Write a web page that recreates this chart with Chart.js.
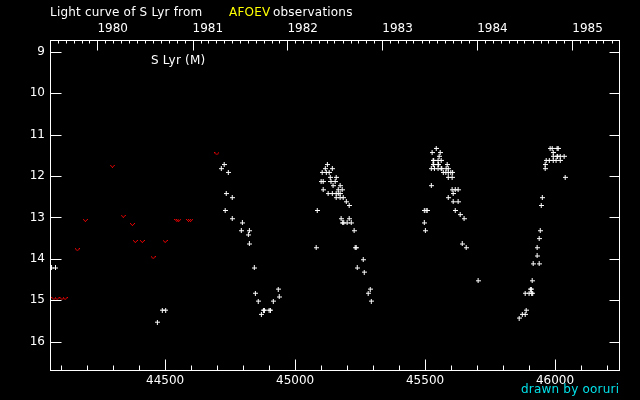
<!DOCTYPE html>
<html><head><meta charset="utf-8">
<script src="https://cdn.jsdelivr.net/npm/chart.js@4/dist/chart.umd.min.js"></script>
<style>html,body{margin:0;padding:0;background:#000;overflow:hidden}canvas{display:block}</style>
</head><body>
<canvas id="c" width="640" height="400"></canvas>
<script>
// Visual observations (JD - 2400000, magnitude)
const visJD = [44063,44078,44470,44489,44502,
  44716,44727,44743,44735,44758,44731,44758,44797,44793,44824,44820,44824,44843,44847,44858,44870,44878,44882,44900,44905,44916,44935,44939,
  45081,45085,45100,45104,45108,45108,45116,45120,45124,45127,45131,45135,45138,45143,45143,45146,45154,45158,45158,45158,45166,45166,45173,45173,45173,45177,45181,45183,45185,45187,45197,45200,45208,45208,45216,45227,45231,45235,45239,45262,45266,45281,45289,45293,
  45497,45504,45508,45497,45501,45524,45524,45527,45531,45533,45531,45533,45536,45543,45550,45550,45552,45550,45554,45558,45562,45562,45564,45570,45580,45589,45599,45606,45581,45589,45585,45589,45604,45589,45604,45616,45627,45608,45608,45627,45616,45635,45650,45643,45658,45704,
  45862,45874,45885,45889,45885,45900,45910,45914,45905,45909,45912,45916,45939,45931,45931,45939,45943,45947,45951,45962,45962,45966,45978,45993,46004,46020,45993,46008,46010,46020,46035,45993,45981,45989,46008,46012,46039];
const visMag = [14.22,14.22,15.53,15.24,15.24,
  11.82,11.72,11.91,12.42,12.52,12.83,13.03,13.13,13.32,13.32,13.42,13.64,14.22,14.83,15.02,15.34,15.24,15.24,15.24,15.24,15.02,14.73,14.92,
  13.73,12.83,12.13,11.91,12.13,12.33,11.82,11.91,11.72,12.42,11.91,12.03,12.13,11.82,12.42,12.23,12.13,12.03,12.42,12.52,12.33,12.42,12.23,12.42,12.52,13.03,12.33,13.13,12.52,13.13,12.62,13.13,12.71,13.03,13.13,13.32,13.73,13.73,14.22,14.02,14.32,14.83,14.73,15.02,
  12.83,12.83,12.83,13.13,13.32,11.82,12.23,11.43,11.62,11.62,11.72,11.72,11.82,11.33,11.62,11.72,11.72,11.82,11.52,11.43,11.62,11.82,11.82,11.91,11.91,11.91,11.91,11.91,11.82,11.82,11.72,12.03,12.03,12.52,12.33,12.33,12.33,12.42,12.62,12.62,12.83,12.93,13.03,13.64,13.73,14.53,
  15.43,15.34,15.34,15.24,14.83,14.83,14.83,14.83,14.73,14.73,14.53,14.12,14.12,13.93,13.73,13.51,13.32,12.71,12.52,11.82,11.72,11.62,11.62,11.62,11.62,11.62,11.52,11.52,11.52,11.52,11.52,11.43,11.33,11.33,11.33,11.33,12.03];
// "Fainter than" limits
const limJD  = [44072,44084,44103,44115,44162,44193,44297,44339,44374,44385,44412,44454,44500,44545,44552,44590,44598,44699];
const limMag = [14.96,14.96,14.96,14.96,13.78,13.07,11.76,12.97,13.17,13.58,13.58,13.97,13.58,13.07,13.07,13.07,13.07,11.46];

const jdTicks = [44500,45000,45500,46000];
const magTicks = [9,10,11,12,13,14,15,16];
const yearLabels = ['1980','1981','1982','1983','1984','1985'];
const xMin = 44057, xMax = 46250, yMin = 8.71, yMax = 16.71;

function jdOf(y,m){ return Date.UTC(y,m,1)/86400000 + 40587.5; }
const yearJD = yearLabels.map(l => jdOf(+l,0));

function makeCross(){ const c=document.createElement('canvas'); c.width=5; c.height=5; const g=c.getContext('2d'); g.fillStyle='#fff'; g.fillRect(2,0,1,5); g.fillRect(0,2,5,1); return c; }
function makeV(){ const c=document.createElement('canvas'); c.width=5; c.height=3; const g=c.getContext('2d'); g.fillStyle='#ee0000'; g.fillRect(0,0,1,1); g.fillRect(4,0,1,1); g.fillRect(1,1,1,1); g.fillRect(3,1,1,1); g.fillRect(2,2,1,1); return c; }

const FONT = 'DejaVu Sans';
Chart.defaults.font.family = FONT;
Chart.defaults.color = '#fff';

const framePlugin = {
  id:'frame',
  beforeDraw(chart){ const c=chart.ctx; c.save(); c.fillStyle='#000'; c.fillRect(0,0,chart.width,chart.height); c.restore(); },
  afterDraw(chart){
    const {ctx, chartArea:a, scales} = chart;
    const L=Math.round(a.left)+0.5, R=Math.round(a.right)-0.5, T=Math.round(a.top)+0.5, B=Math.round(a.bottom)-0.5;
    ctx.save();
    ctx.strokeStyle='#fff'; ctx.lineWidth=1;
    ctx.strokeRect(L,T,R-L,B-T);
    ctx.beginPath();
    magTicks.forEach(m=>{ const y=Math.round(scales.y.getPixelForValue(m))+0.5; ctx.moveTo(L,y); ctx.lineTo(L+11,y); ctx.moveTo(R,y); ctx.lineTo(R-10,y); });
    for (let v=Math.ceil(xMin/100)*100; v<=xMax; v+=100){ const x=Math.round(scales.x.getPixelForValue(v))+0.5; const len=(v%500===0)?11:5; ctx.moveTo(x,B); ctx.lineTo(x,B-len); }
    const y0=+yearLabels[0]-1, y1=+yearLabels[yearLabels.length-1];
    for (let yr=y0; yr<=y1; yr++) for (let m=0;m<12;m++){ const j=jdOf(yr,m); if(j<xMin||j>xMax) continue; const x=Math.round(scales.x2.getPixelForValue(j))+0.5; const len=m===0?10:3; ctx.moveTo(x,T); ctx.lineTo(x,T+len); }
    ctx.stroke();
    ctx.font = '12px "'+FONT+'"'; ctx.textBaseline='alphabetic'; ctx.textAlign='left';
    try { ctx.letterSpacing = '0.2px'; } catch(e) {}
    ctx.fillStyle='#fff'; ctx.fillText('Light curve of S Lyr from', 50, 16);
    ctx.fillStyle='#ffff00'; ctx.fillText('AFOEV', 229, 16);
    ctx.fillStyle='#fff'; ctx.fillText('observations', 273, 16);
    ctx.fillText('S Lyr (M)', 151, 64);
    ctx.fillStyle='#00e0e8'; ctx.fillText('drawn by ooruri', 521, 393);
    ctx.restore();
  }
};

new Chart(document.getElementById('c'), {
  type:'scatter',
  data:{ datasets:[
    { label:'visual', data: visJD.map((x,i)=>({x, y:visMag[i]})), pointStyle: makeCross(), pointRadius:3, xAxisID:'x', yAxisID:'y' },
    { label:'fainter than', data: limJD.map((x,i)=>({x, y:limMag[i]})), pointStyle: makeV(), pointRadius:3, xAxisID:'x', yAxisID:'y' }
  ]},
  options:{
    responsive:false, animation:false, devicePixelRatio:1,
    layout:{ autoPadding:false, padding:{left:0, right:20, top:0, bottom:0} },
    plugins:{ legend:{display:false}, tooltip:{enabled:false} },
    scales:{
      x:{ type:'linear', position:'bottom', min:xMin, max:xMax,
        afterBuildTicks:s=>{ s.ticks = jdTicks.map(v=>({value:v})); },
        ticks:{ autoSkip:false, maxRotation:0, minRotation:0, padding:3, color:'#fff', font:{size:12}, callback:v=>String(v) },
        grid:{ display:false, drawTicks:false }, border:{ display:false },
        afterFit:s=>{ s.height = 29; } },
      x2:{ type:'linear', axis:'x', position:'top', min:xMin, max:xMax,
        afterBuildTicks:s=>{ s.ticks = yearJD.map(v=>({value:v})); },
        ticks:{ autoSkip:false, align:'start', maxRotation:0, minRotation:0, padding:4, color:'#fff', font:{size:12}, callback:(v,i)=>yearLabels[i] },
        grid:{ display:false, drawTicks:false }, border:{ display:false },
        afterFit:s=>{ s.height = 40; } },
      y:{ type:'linear', position:'left', reverse:true, min:yMin, max:yMax,
        afterBuildTicks:s=>{ s.ticks = magTicks.map(v=>({value:v})); },
        ticks:{ autoSkip:false, padding:5, color:'#fff', font:{size:12}, callback:v=>String(v) },
        grid:{ display:false, drawTicks:false }, border:{ display:false },
        afterFit:s=>{ s.width = 50; } }
    }
  },
  plugins:[framePlugin]
});
</script>
</body></html>
